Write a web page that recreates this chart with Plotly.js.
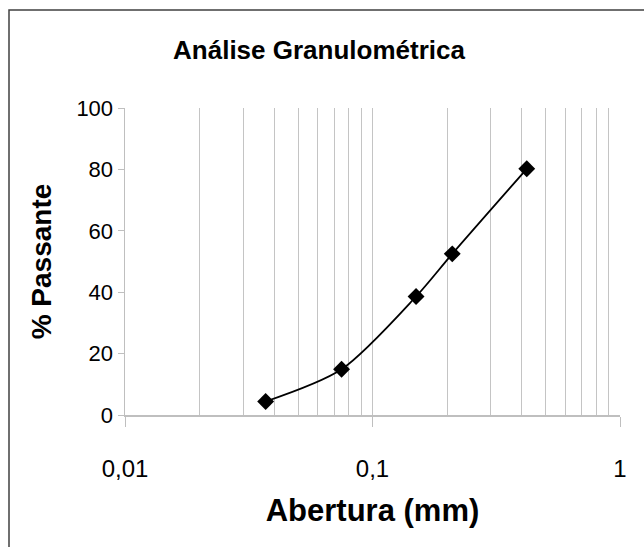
<!DOCTYPE html>
<html>
<head>
<meta charset="utf-8">
<script src="https://cdn.plot.ly/plotly-3.0.1.min.js"></script>
<style>html,body{margin:0;padding:0;background:#fff;}#chart{width:644px;height:547px;}</style>
</head>
<body>
<div id="chart"></div>
<script>
const abertura = [0.037, 0.075, 0.15, 0.21, 0.42];
const passante = [4.4, 14.9, 38.6, 52.5, 80.2];
const xTickVals = [0.01, 0.1, 1];
const xTickText = ['0,01', '0,1', '1'];
const xMinorVals = [0.02,0.03,0.04,0.05,0.06,0.07,0.08,0.09,0.2,0.3,0.4,0.5,0.6,0.7,0.8,0.9];
const yTickVals = [0, 20, 40, 60, 80, 100];

const W = 644, H = 547;
const L = 125, R = 24, T = 108, B = 132;
const pw = W - L - R, ph = H - T - B;
const px = v => (v - L) / pw;
const py = v => (H - B - v) / ph;

const trace = {
  x: abertura, y: passante, type: 'scatter', mode: 'lines+markers',
  line: {color: '#000', width: 1.8, shape: 'spline', smoothing: 0.8},
  marker: {symbol: 'diamond', size: 13, color: '#000'},
  showlegend: false, hoverinfo: 'skip'
};

const layout = {
  width: W, height: H,
  margin: {l: L, r: R, t: T, b: B, pad: 0},
  paper_bgcolor: '#fff', plot_bgcolor: '#fff',
  font: {family: 'Liberation Sans, Arial, sans-serif', color: '#000'},
  title: {text: '<b>Análise Granulométrica</b>', font: {size: 26, color: '#000'},
          x: 319 / W, xref: 'container', xanchor: 'center', y: 1 - 50/H, yref: 'container', yanchor: 'middle'},
  xaxis: {
    type: 'log', range: [-2, 0], autorange: false,
    tickmode: 'array', tickvals: xTickVals, ticktext: xTickText,
    ticks: 'outside', ticklen: 10, tickcolor: '#bfbfbf', tickwidth: 1,
    ticklabelstandoff: 22,
    showline: true, linecolor: '#bfbfbf', linewidth: 1.5,
    showgrid: true, gridcolor: '#c4c4c4', gridwidth: 1,
    minor: {tickmode: 'array', tickvals: xMinorVals, showgrid: true, gridcolor: '#c4c4c4', gridwidth: 1, ticks: ''},
    zeroline: false,
    tickfont: {size: 24, color: '#000'},
    title: {text: '<b>Abertura (mm)</b>', font: {size: 31, color: '#000'}, standoff: 18}
  },
  yaxis: {
    range: [0, 100], autorange: false,
    tickmode: 'array', tickvals: yTickVals,
    ticks: 'outside', ticklen: 6, tickcolor: '#bfbfbf', tickwidth: 1,
    ticklabelstandoff: 0,
    showline: true, linecolor: '#bfbfbf', linewidth: 1.5,
    showgrid: false, zeroline: false,
    tickfont: {size: 22, color: '#000'},
    title: {text: '<b>% Passante</b>', font: {size: 28, color: '#000'}, standoff: 16}
  },
  shapes: [{
    type: 'rect', xref: 'paper', yref: 'paper',
    x0: px(9), x1: px(700), y0: py(620), y1: py(10),
    line: {color: '#404040', width: 1.5}, fillcolor: 'rgba(0,0,0,0)', layer: 'above'
  }]
};

Plotly.newPlot('chart', [trace], layout, {staticPlot: true, displayModeBar: false});
</script>
</body>
</html>
